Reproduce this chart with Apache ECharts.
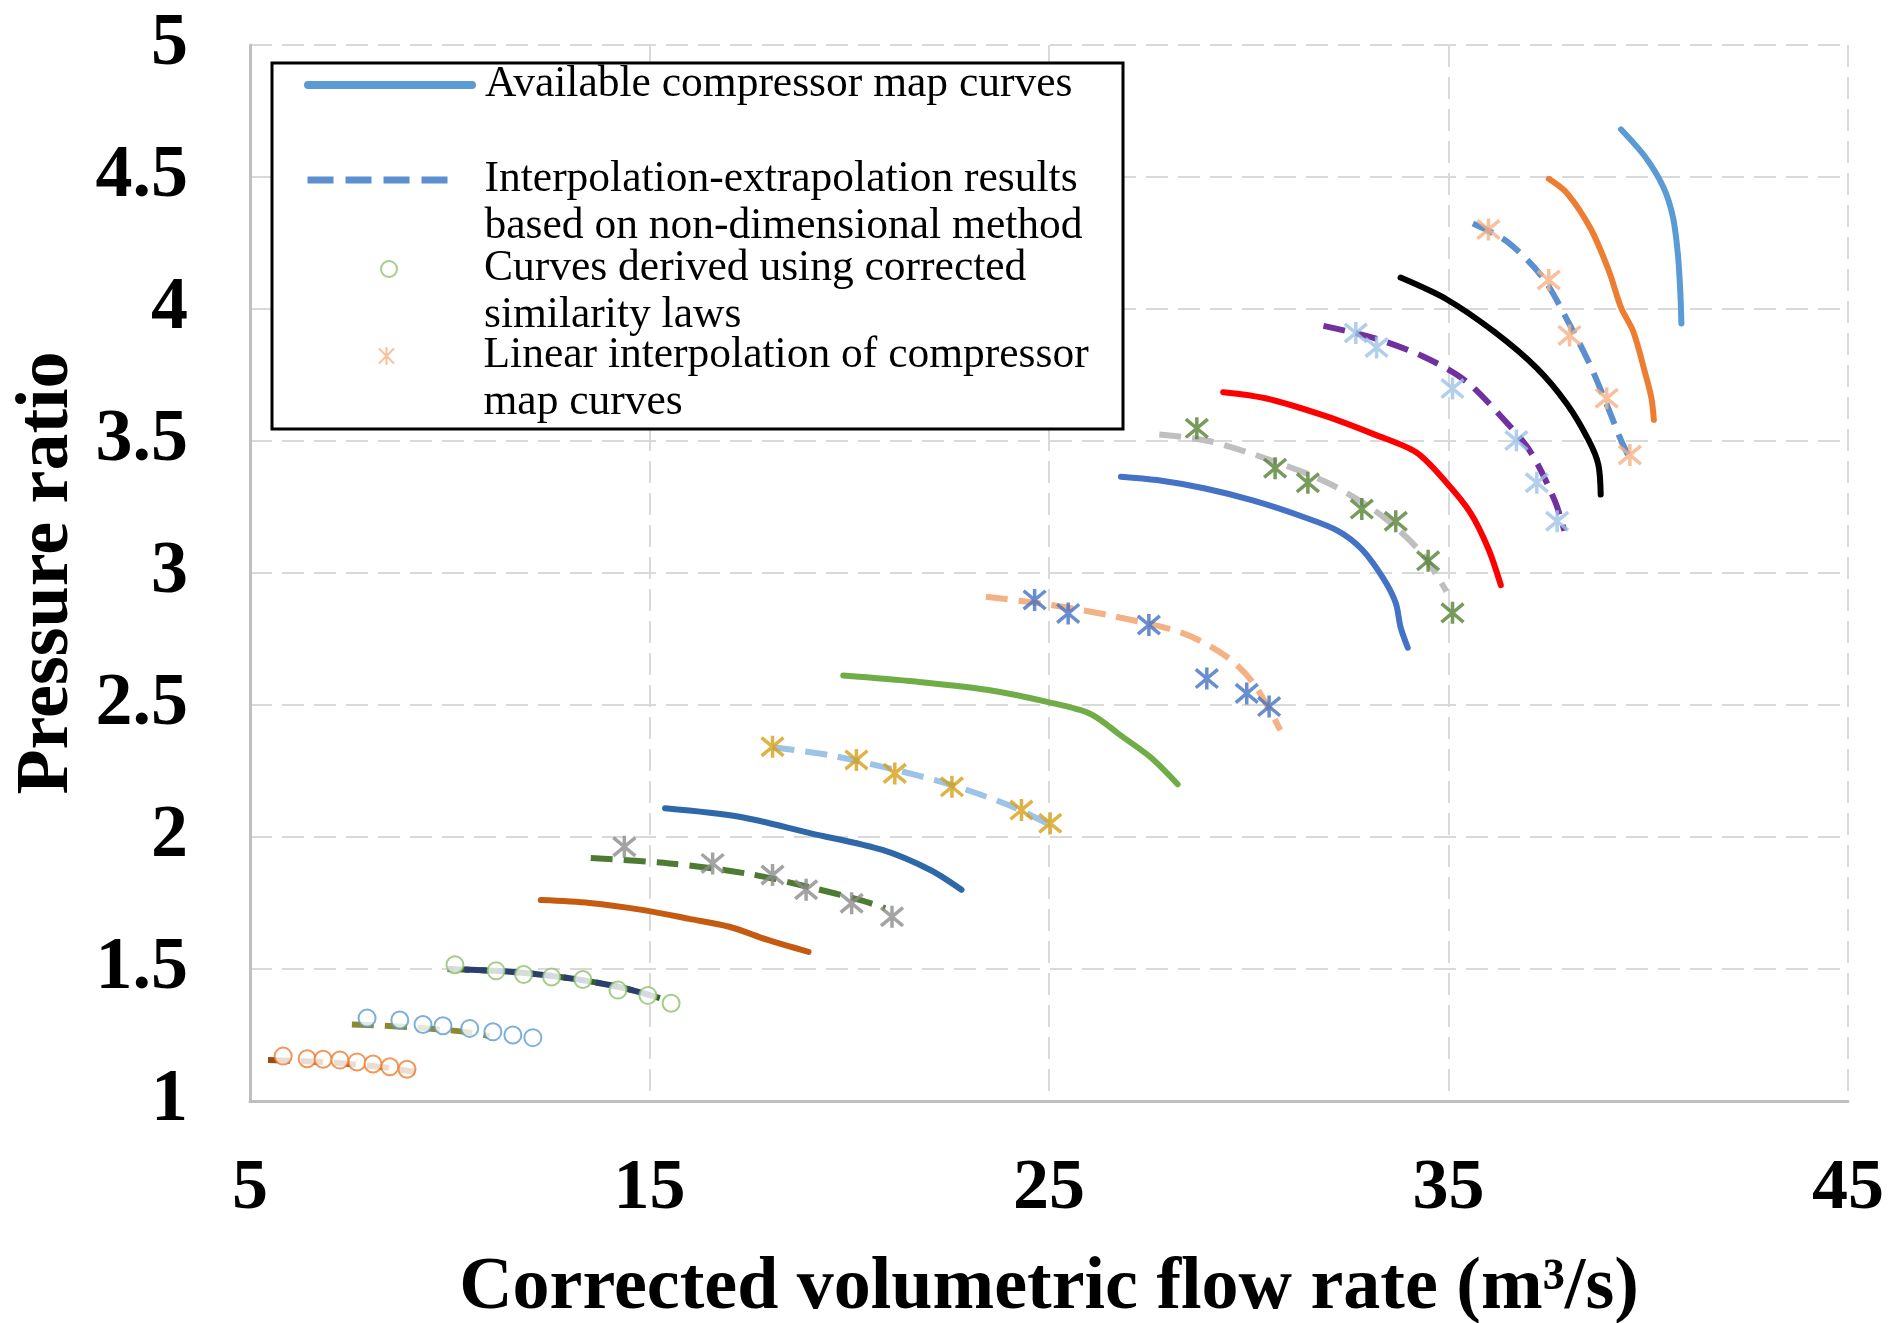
<!DOCTYPE html>
<html><head><meta charset="utf-8">
<script src="https://cdn.jsdelivr.net/npm/echarts@6/dist/echarts.min.js"></script>
<style>html,body{margin:0;padding:0;background:#fff}#c{width:1890px;height:1323px}</style>
</head><body><div id="c"></div>
<script>
// ---- axis ticks ----
const xTicks = [5, 15, 25, 35, 45];
const yTicks = [1, 1.5, 2, 2.5, 3, 3.5, 4, 4.5, 5];

// ---- legend names ----
const L_SOLID = 'Available compressor map curves';
const L_DASH = 'Interpolation-extrapolation results\nbased on non-dimensional method';
const L_CIRC = 'Curves derived using corrected\nsimilarity laws';
const L_STAR = 'Linear interpolation of compressor\nmap curves';

// ---- available compressor map curves (solid) ----
const solidLightBlue = [[39.32,4.68],[39.93,4.575],[40.38,4.461],[40.62,4.347],[40.74,4.21],[40.80,4.073],[40.83,3.945]];
const solidOrange = [[37.51,4.493],[37.97,4.438],[38.57,4.301],[39.02,4.142],[39.32,4.005],[39.63,3.913],[39.93,3.753],[40.08,3.662],[40.14,3.58]];
const solidBlack = [[33.80,4.119],[34.95,4.037],[36.15,3.913],[37.21,3.776],[37.97,3.639],[38.51,3.502],[38.75,3.411],[38.81,3.297]];
const solidRed = [[29.36,3.685],[30.42,3.662],[31.93,3.594],[33.14,3.525],[34.19,3.457],[34.95,3.342],[35.55,3.228],[36.0,3.091],[36.31,2.954]];
const solidBlue = [[26.80,3.365],[27.70,3.352],[28.91,3.32],[30.12,3.274],[31.32,3.215],[32.23,3.16],[32.83,3.09],[33.38,2.977],[33.68,2.886],[33.80,2.795],[33.98,2.717]];
const solidGreen = [[19.85,2.612],[21.66,2.589],[23.48,2.557],[24.98,2.511],[26.04,2.466],[26.8,2.384],[27.55,2.301],[28.22,2.20]];
const solidDarkBlue = [[15.39,2.109],[17.25,2.077],[19.04,2.014],[20.83,1.951],[22.03,1.875],[22.81,1.80]];
const solidBrown = [[12.28,1.761],[13.5,1.75],[14.85,1.723],[16.0,1.69],[17.0,1.66],[17.96,1.61],[18.98,1.565]];

// ---- interpolation-extrapolation results (dashed) ----
const dashBlue = [[35.61,4.324],[36.46,4.256],[37.36,4.119],[37.97,3.959],[38.51,3.799],[38.96,3.639],[39.32,3.502],[39.54,3.434]];
const dashPurple = [[31.87,3.936],[33.14,3.89],[34.34,3.822],[35.40,3.731],[36.31,3.594],[37.06,3.457],[37.66,3.274],[37.9,3.16]];
const dashGray = [[27.76,3.525],[29.0,3.50],[30.5,3.43],[32.0,3.34],[33.3,3.22],[34.3,3.08],[34.95,2.93]];
const dashOrange = [[23.42,2.91],[25.0,2.88],[26.5,2.84],[28.33,2.773],[29.45,2.683],[30.12,2.582],[30.79,2.405]];
const dashLightBlue = [[18.08,2.34],[19.5,2.31],[21.0,2.26],[22.5,2.20],[24.0,2.12],[25.1,2.04]];
const dashDarkGreen = [[13.53,1.92],[15.5,1.90],[17.5,1.86],[19.0,1.81],[20.3,1.76],[20.9,1.73]];
const dashLow1 = [[9.95,1.50],[11.5,1.49],[13.0,1.465],[14.3,1.43],[15.26,1.39]];
const dashLow2 = [[7.55,1.29],[9.0,1.28],[10.5,1.26],[11.0,1.245]];
const dashLow3 = [[5.45,1.155],[6.5,1.15],[7.5,1.14],[8.5,1.125],[9.13,1.11]];

// ---- corrected similarity laws (circles) ----
const circGreen = [[10.13,1.516],[11.16,1.493],[11.85,1.479],[12.55,1.47],[13.33,1.46],[14.21,1.42],[14.96,1.40],[15.54,1.37]];
const circBlue = [[7.93,1.314],[8.75,1.307],[9.33,1.29],[9.83,1.285],[10.5,1.275],[11.08,1.262],[11.58,1.25],[12.08,1.24]];
const circOrange = [[5.83,1.17],[6.43,1.16],[6.83,1.158],[7.25,1.155],[7.68,1.148],[8.08,1.14],[8.5,1.13],[8.93,1.12]];

// ---- linear interpolation (stars) ----
const starOrange = [[36.0,4.301],[37.51,4.11],[38.03,3.90],[38.96,3.662],[39.54,3.447]];
const starLightBlue = [[32.68,3.909],[33.20,3.854],[35.10,3.699],[36.70,3.502],[37.21,3.342],[37.72,3.196]];
const starGreen = [[28.70,3.548],[30.66,3.397],[31.48,3.342],[32.83,3.242],[33.68,3.196],[34.49,3.046],[35.10,2.849]];
const starBlue = [[24.64,2.898],[25.48,2.847],[27.5,2.803],[28.95,2.60],[29.95,2.544],[30.51,2.494]];
const starGold = [[18.08,2.342],[20.18,2.292],[21.14,2.241],[22.57,2.19],[24.31,2.102],[25.03,2.052]];
const starGray = [[14.37,1.963],[16.58,1.90],[18.08,1.856],[18.92,1.80],[20.06,1.749],[21.07,1.698]];

const STAR = 'path://M0,0L20,20M20,0L0,20M10,-2L10,22';
const SERIF = "'Liberation Serif', 'Times New Roman', serif";

function solid(data, color) {
  return { type: 'line', name: L_SOLID, data: data, symbol: 'none', smooth: 0.3,
    lineStyle: { color: color, width: 6, cap: 'round' }, itemStyle: { color: color }, z: 2 };
}
function dashed(data, color, offset) {
  return { type: 'line', name: L_DASH, data: data, symbol: 'none', smooth: 0.3,
    lineStyle: { color: color, width: 6, type: [22, 11], dashOffset: offset || 0 }, itemStyle: { color: color }, z: 2 };
}
function circles(data, color) {
  return { type: 'scatter', name: L_CIRC, data: data, symbol: 'emptyCircle', symbolSize: 17,
    itemStyle: { color: color, borderColor: color, borderWidth: 3 }, z: 3 };
}
function stars(data, color) {
  return { type: 'scatter', name: L_STAR, data: data, symbol: STAR, symbolSize: 22,
    itemStyle: { color: 'rgba(0,0,0,0)', borderColor: color, borderWidth: 3.5 }, z: 4 };
}

const series = [
  solid(solidLightBlue, '#5B9BD5'),
  solid(solidOrange, '#ED7D31'),
  solid(solidBlack, '#000000'),
  solid(solidRed, '#FF0000'),
  solid(solidBlue, '#4472C4'),
  solid(solidGreen, '#70AD47'),
  solid(solidDarkBlue, '#2E68A8'),
  solid(solidBrown, '#C55A11'),
  dashed(dashBlue, '#5B8FCF'),
  dashed(dashPurple, '#7030A0'),
  dashed(dashGray, '#BFBFBF'),
  dashed(dashOrange, '#F4B183'),
  dashed(dashLightBlue, '#9DC3E6'),
  dashed(dashDarkGreen, '#4E7A32'),
  dashed(dashLow1, '#355E2E'),
  dashed(dashLow1, '#2A3F6E', 16),
  dashed(dashLow2, '#8C8A2E'),
  dashed(dashLow3, '#9A4A18'),
  circles(circGreen, '#8CC06A'),
  circles(circBlue, '#5B9BD5'),
  circles(circOrange, '#ED7D31'),
  stars(starOrange, '#F4B183'),
  stars(starLightBlue, '#9DC3E6'),
  stars(starGreen, '#548235'),
  stars(starBlue, '#4472C4'),
  stars(starGold, '#D4A017'),
  stars(starGray, '#8C8C8C')
];

function legendAt(name, left, top, itemWidth, itemHeight, padLeft, lines, extra) {
  const lg = {
    data: [name], orient: 'vertical', left: left, top: top, padding: 0, itemGap: 0,
    itemWidth: itemWidth, itemHeight: itemHeight, selectedMode: false,
    formatter: lines > 1 ? function (n) { return ' \n' + n; } : '{name}',
    textStyle: { fontFamily: SERIF, fontSize: 43.5, color: '#000', lineHeight: 47,
      padding: [0, 0, 0, padLeft] }
  };
  return Object.assign(lg, extra || {});
}

const chart = echarts.init(document.getElementById('c'), null, { renderer: 'canvas' });
chart.setOption({
  animation: false,
  backgroundColor: '#fff',
  grid: { left: 250, right: 42, top: 45, bottom: 222, containLabel: false, outerBoundsMode: 'none' },
  xAxis: {
    type: 'value', min: xTicks[0], max: xTicks[xTicks.length - 1], interval: 10,
    axisLine: { show: true, onZero: false, lineStyle: { color: '#BFBFBF', width: 3 } },
    axisTick: { show: false },
    axisLabel: { fontFamily: SERIF, fontWeight: 'bold', fontSize: 72, color: '#000', margin: 52 },
    splitLine: { show: true, lineStyle: { color: '#D9D9D9', width: 2, type: [22, 10] } },
    name: 'Corrected volumetric flow rate (m³/s)', nameLocation: 'middle', nameGap: 151,
    nameTextStyle: { fontFamily: SERIF, fontWeight: 'bold', fontSize: 74, color: '#000' }
  },
  yAxis: {
    type: 'value', min: yTicks[0], max: yTicks[yTicks.length - 1], interval: 0.5,
    axisLine: { show: true, onZero: false, lineStyle: { color: '#BFBFBF', width: 3 } },
    axisTick: { show: false },
    axisLabel: { fontFamily: SERIF, fontWeight: 'bold', fontSize: 74, color: '#000', margin: 62 },
    splitLine: { show: true, lineStyle: { color: '#D9D9D9', width: 2, type: [22, 10] } },
    name: 'Pressure ratio', nameLocation: 'middle', nameGap: 163,
    nameTextStyle: { fontFamily: SERIF, fontWeight: 'bold', fontSize: 74, color: '#000' }
  },
  graphic: [{ type: 'rect', z: 3, shape: { x: 272, y: 63, width: 851, height: 366 },
    style: { fill: '#fff', stroke: '#000', lineWidth: 3 } }],
  legend: [
    legendAt(L_SOLID, 304, 61.5, 164, 14, 8, 1,
      { itemStyle: { opacity: 0 }, lineStyle: { width: 8, cap: 'round' } }),
    legendAt(L_DASH, 304, 109.5, 150, 14, 22, 2,
      { itemStyle: { opacity: 0 }, lineStyle: { width: 7, type: [26, 12] } }),
    legendAt(L_CIRC, 380, 198.5, 16, 16, 82, 2),
    legendAt(L_STAR, 378, 285.5, 20, 18, 82, 2)
  ],
  series: series
});
</script></body></html>
